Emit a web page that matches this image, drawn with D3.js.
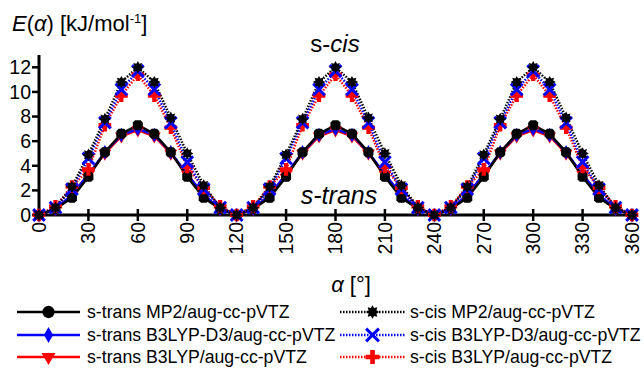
<!DOCTYPE html>
<html>
<head>
<meta charset="utf-8">
<script src="https://cdn.jsdelivr.net/npm/d3@7"></script>
<style>
  body { margin: 0; background: #fff; }
  svg { font-family: "Liberation Sans", Arial, sans-serif; }
</style>
</head>
<body>
<svg id="chart" width="644" height="370"></svg>
<script>
// torsion angle, every 10 degrees
const angles = d3.range(0, 361, 10);
const xTicks = d3.range(0, 361, 30);
const yTicks = [0, 2, 4, 6, 8, 10, 12];

// energies in kJ/mol
const sTransMP2 = [0, 0.5, 1.4, 3.1, 5.1, 6.6, 7.3, 6.6, 5.1, 3.1, 1.4, 0.5, 0,
  0.5, 1.4, 3.1, 5.1, 6.6, 7.3, 6.6, 5.1, 3.1, 1.4, 0.5, 0,
  0.5, 1.4, 3.1, 5.1, 6.6, 7.3, 6.6, 5.1, 3.1, 1.4, 0.5, 0];
const sTransD3 = [0, 0.5, 1.6, 3.3, 5.1, 6.5, 7.0, 6.5, 5.1, 3.3, 1.6, 0.5, 0,
  0.5, 1.6, 3.3, 5.1, 6.5, 7.0, 6.5, 5.1, 3.3, 1.6, 0.5, 0,
  0.5, 1.6, 3.3, 5.1, 6.5, 7.0, 6.5, 5.1, 3.3, 1.6, 0.5, 0];
const sTransB3 = [0, 0.5, 1.6, 3.3, 5.0, 6.4, 6.9, 6.4, 5.0, 3.3, 1.6, 0.5, 0,
  0.5, 1.6, 3.3, 5.0, 6.4, 6.9, 6.4, 5.0, 3.3, 1.6, 0.5, 0,
  0.5, 1.6, 3.3, 5.0, 6.4, 6.9, 6.4, 5.0, 3.3, 1.6, 0.5, 0];
const sCisMP2 = [0, 0.6, 2.3, 4.9, 7.8, 10.8, 12.0, 10.8, 7.9, 5.0, 2.4, 0.6, 0,
  0.6, 2.3, 4.9, 7.8, 10.8, 12.0, 10.8, 7.9, 5.0, 2.4, 0.6, 0,
  0.6, 2.3, 4.9, 7.8, 10.8, 12.0, 10.8, 7.9, 5.0, 2.4, 0.6, 0];
const sCisD3 = [0, 0.6, 2.1, 4.6, 7.5, 10.2, 11.7, 10.2, 7.5, 4.3, 2.1, 0.6, 0,
  0.6, 2.1, 4.6, 7.5, 10.2, 11.7, 10.2, 7.5, 4.3, 2.1, 0.6, 0,
  0.6, 2.1, 4.6, 7.5, 10.2, 11.7, 10.2, 7.5, 4.3, 2.1, 0.6, 0];
const sCisB3 = [0, 0.7, 2.3, 3.7, 7.3, 9.7, 11.4, 9.7, 7.1, 3.9, 2.2, 0.7, 0,
  0.7, 2.3, 3.7, 7.3, 9.7, 11.4, 9.7, 7.1, 3.9, 2.2, 0.7, 0,
  0.7, 2.3, 3.7, 7.3, 9.7, 11.4, 9.7, 7.1, 3.9, 2.2, 0.7, 0];

const svg = d3.select("#chart");
const x = d3.scaleLinear().domain([0, 360]).range([39, 632]);
const y = d3.scaleLinear().domain([0, 13]).range([215, 55]);

// custom symbols
const octagon = {
  draw(ctx, size) {
    const r = Math.sqrt(size) / 2, c = r * 0.45;
    ctx.moveTo(-r + c, -r); ctx.lineTo(r - c, -r); ctx.lineTo(r, -r + c); ctx.lineTo(r, r - c);
    ctx.lineTo(r - c, r); ctx.lineTo(-r + c, r); ctx.lineTo(-r, r - c); ctx.lineTo(-r, -r + c);
    ctx.closePath();
  }
};
const star8 = {
  draw(ctx, size) {
    const R = Math.sqrt(size) * 0.62, r = R * 0.62;
    for (let i = 0; i < 16; i++) {
      const a = i * Math.PI / 8 - Math.PI / 2, rr = i % 2 ? r : R;
      if (i === 0) ctx.moveTo(rr * Math.cos(a), rr * Math.sin(a));
      else ctx.lineTo(rr * Math.cos(a), rr * Math.sin(a));
    }
    ctx.closePath();
  }
};

const series = [
  { name: "s-trans B3LYP/aug-cc-pVTZ", vals: sTransB3, color: "#ff0000", dash: null, sym: d3.symbolTriangle, size: 70, rot: 180, stroke: false },
  { name: "s-trans B3LYP-D3/aug-cc-pVTZ", vals: sTransD3, color: "#0000ff", dash: null, sym: d3.symbolDiamond, size: 60, rot: 0, stroke: false },
  { name: "s-trans MP2/aug-cc-pVTZ", vals: sTransMP2, color: "#000000", dash: null, sym: octagon, size: 100, rot: 0, stroke: false },
  { name: "s-cis B3LYP/aug-cc-pVTZ", vals: sCisB3, color: "#ff0000", dash: "1.5,1.5", sym: d3.symbolCross, size: 90, rot: 0, stroke: false },
  { name: "s-cis B3LYP-D3/aug-cc-pVTZ", vals: sCisD3, color: "#0000ff", dash: "1.5,1.5", sym: d3.symbolX, size: 90, rot: 0, stroke: true },
  { name: "s-cis MP2/aug-cc-pVTZ", vals: sCisMP2, color: "#000000", dash: "1.5,1.5", sym: star8, size: 100, rot: 0, stroke: false }
];

// axes
svg.append("line").attr("x1", x(0)).attr("x2", x(0)).attr("y1", 55).attr("y2", y(0))
  .attr("stroke", "#000").attr("stroke-width", 3);
svg.append("line").attr("x1", x(0)).attr("x2", x(360)).attr("y1", y(0)).attr("y2", y(0))
  .attr("stroke", "#000").attr("stroke-width", 3);

svg.selectAll(".ytick").data(yTicks).enter().append("line")
  .attr("x1", x(0) - 7).attr("x2", x(0)).attr("y1", d => y(d)).attr("y2", d => y(d))
  .attr("stroke", "#000").attr("stroke-width", 2.5);
svg.selectAll(".ylab").data(yTicks).enter().append("text")
  .attr("x", 31).attr("y", d => y(d)).attr("dy", "0.35em")
  .attr("text-anchor", "end").style("font-size", "19.5px").text(d => d);

svg.selectAll(".xtick").data(xTicks).enter().append("line")
  .attr("x1", d => x(d)).attr("x2", d => x(d)).attr("y1", y(0) - 6).attr("y2", y(0) + 6)
  .attr("stroke", "#000").attr("stroke-width", 2.5);
svg.selectAll(".xlab").data(xTicks).enter().append("text")
  .attr("transform", d => "translate(" + x(d) + "," + (y(0) + 7) + ") rotate(-90)")
  .attr("dy", "0.35em").attr("text-anchor", "end")
  .style("font-size", "19.5px").text(d => d);

// series
const line = d3.line().x((d, i) => x(angles[i])).y(d => y(d));
series.forEach(s => {
  svg.append("path").datum(s.vals).attr("d", line)
    .attr("fill", "none").attr("stroke", s.color).attr("stroke-width", 2.5)
    .attr("stroke-dasharray", s.dash);
});
series.forEach(s => {
  const sym = d3.symbol().type(s.sym).size(s.size);
  svg.append("g").selectAll("path").data(s.vals).enter().append("path")
    .attr("d", sym)
    .attr("transform", (d, i) => "translate(" + x(angles[i]) + "," + y(d) + ") rotate(" + s.rot + ")")
    .attr("fill", s.stroke ? "none" : s.color)
    .attr("stroke", s.stroke ? s.color : "none")
    .attr("stroke-width", 3);
});

// titles
const yt = svg.append("text").attr("x", 12).attr("y", 31).style("font-size", "22px");
yt.append("tspan").style("font-style", "italic").text("E");
yt.append("tspan").text("(");
yt.append("tspan").style("font-style", "italic").text("α");
yt.append("tspan").text(") [kJ/mol");
yt.append("tspan").attr("dy", -8).style("font-size", "13px").text("-1");
yt.append("tspan").attr("dy", 8).text("]");

const xt = svg.append("text").attr("x", 351).attr("y", 292).attr("text-anchor", "middle").style("font-size", "22px");
xt.append("tspan").style("font-style", "italic").text("α");
xt.append("tspan").text(" [°]");

const cis = svg.append("text").attr("x", 335).attr("y", 52).attr("text-anchor", "middle").style("font-size", "24px");
cis.append("tspan").text("s-");
cis.append("tspan").style("font-style", "italic").text("cis");

svg.append("text").attr("x", 339).attr("y", 204).attr("text-anchor", "middle")
  .style("font-size", "25px").style("font-style", "italic").text("s-trans");

// legend
const legendRows = [312, 335, 357];
const legendOrder = [2, 1, 0, 5, 4, 3];
legendOrder.forEach((si, k) => {
  const s = series[si];
  const col = k < 3 ? 0 : 1;
  const ly = legendRows[k % 3];
  const x0 = col === 0 ? 17 : 340, x1 = col === 0 ? 80 : 405, xm = (x0 + x1) / 2;
  const g = svg.append("g");
  g.append("line").attr("x1", x0).attr("x2", x1).attr("y1", ly).attr("y2", ly)
    .attr("stroke", s.color).attr("stroke-width", 2.5).attr("stroke-dasharray", s.dash);
  const sym = d3.symbol().type(si === 2 ? d3.symbolCircle : s.sym).size(s.size * 1.2);
  g.append("path").attr("d", sym)
    .attr("transform", "translate(" + xm + "," + ly + ") rotate(" + s.rot + ")")
    .attr("fill", s.stroke ? "none" : s.color)
    .attr("stroke", s.stroke ? s.color : "none").attr("stroke-width", 3);
  g.append("text").attr("x", col === 0 ? 87 : 410).attr("y", ly).attr("dy", "0.35em")
    .style("font-size", "17.7px").text(s.name);
});
</script>
</body>
</html>
